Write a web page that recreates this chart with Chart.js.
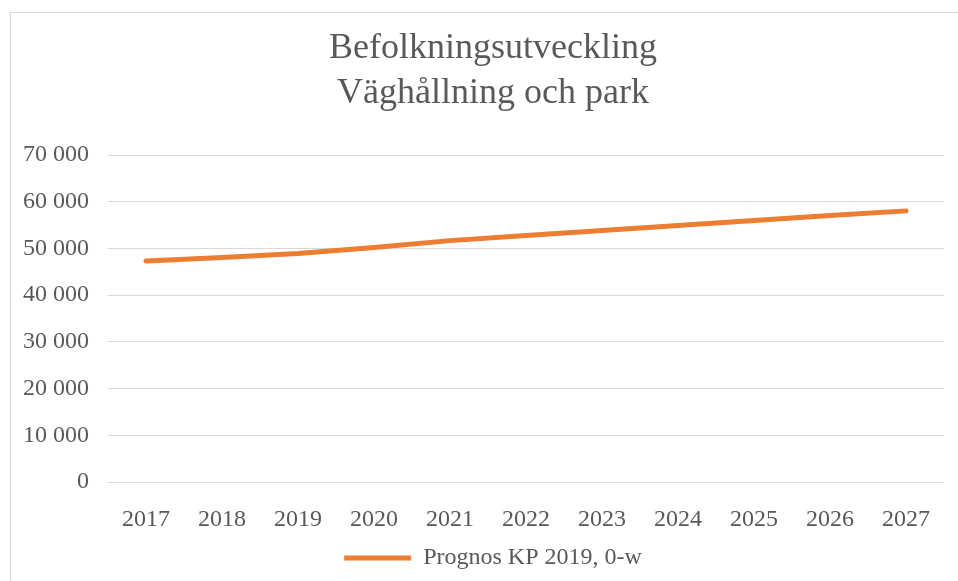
<!DOCTYPE html>
<html>
<head>
<meta charset="utf-8">
<title>Befolkningsutveckling</title>
<script src="https://cdn.jsdelivr.net/npm/chart.js@4.4.1/dist/chart.umd.min.js"></script>
<style>
    html, body { margin: 0; padding: 0; background: #fff; overflow: hidden; }
    #frame {
        position: absolute;
        left: 10px;
        top: 12px;
        width: 964px;
        height: 600px;
        border: 1px solid #d9d9d9;
    }
    #chart { display: block; }
</style>
</head>
<body>
<div id="frame">
    <canvas id="chart" width="964" height="568"></canvas>
</div>
<script>
// data
var years = ['2017', '2018', '2019', '2020', '2021', '2022', '2023', '2024', '2025', '2026', '2027'];
var prognos = [47330, 48040, 48910, 50220, 51670, 52760, 53850, 54930, 55960, 57040, 58040];
var titleLines = ['Befolkningsutveckling', 'Väghållning och park'];
var seriesName = 'Prognos KP 2019, 0-w';

var textColor = '#595959';
var gridColor = '#d9d9d9';
var serif = "'Liberation Serif', 'Times New Roman', serif";

function formatThousands(value) {
    return String(value).replace(/\B(?=(\d{3})+(?!\d))/g, ' ');
}

var chart_line_settings = {
    type: 'line',
    data: {
        labels: years,
        datasets: [{
            label: seriesName,
            data: prognos,
            borderColor: '#ED7D31',
            backgroundColor: '#ED7D31',
            borderWidth: 5,
            borderCapStyle: 'round',
            borderJoinStyle: 'round',
            pointRadius: 0,
            pointHoverRadius: 0,
            tension: 0,
            fill: false
        }]
    },
    options: {
        responsive: false,
        animation: false,
        layout: {
            padding: { left: 0, right: 0, top: 0, bottom: 1 }
        },
        plugins: {
            title: {
                display: true,
                text: titleLines,
                color: textColor,
                font: { family: serif, size: 36, weight: 'normal', lineHeight: 1.25 },
                padding: { top: 13, bottom: 39 }
            },
            legend: {
                display: true,
                position: 'bottom',
                labels: {
                    color: textColor,
                    font: { family: serif, size: 24 },
                    usePointStyle: true,
                    pointStyle: 'line',
                    pointStyleWidth: 67,
                    padding: 10
                }
            },
            tooltip: { enabled: false }
        },
        scales: {
            x: {
                grid: { display: false, drawTicks: false },
                border: { display: false },
                offset: true,
                ticks: {
                    color: textColor,
                    font: { family: serif, size: 24 },
                    padding: 23,
                    maxRotation: 0
                },
                afterFit: function (scale) {
                    scale.height = 54;
                }
            },
            y: {
                min: 0,
                max: 70000,
                grid: { color: gridColor, lineWidth: 1, drawTicks: false },
                border: { display: false },
                ticks: {
                    stepSize: 10000,
                    color: textColor,
                    font: { family: serif, size: 24 },
                    padding: 19,
                    callback: function (value) {
                        return formatThousands(value);
                    }
                },
                afterFit: function (scale) {
                    scale.width = 97;
                }
            },
            // empty right margin so title and legend stay centred on the frame
            yRight: {
                position: 'right',
                display: true,
                grid: { display: false, drawTicks: false },
                border: { display: false },
                ticks: { display: false },
                afterFit: function (scale) {
                    scale.width = 31;
                }
            }
        }
    }
};

var chart_line = new Chart(document.getElementById('chart'), chart_line_settings);
</script>
</body>
</html>
